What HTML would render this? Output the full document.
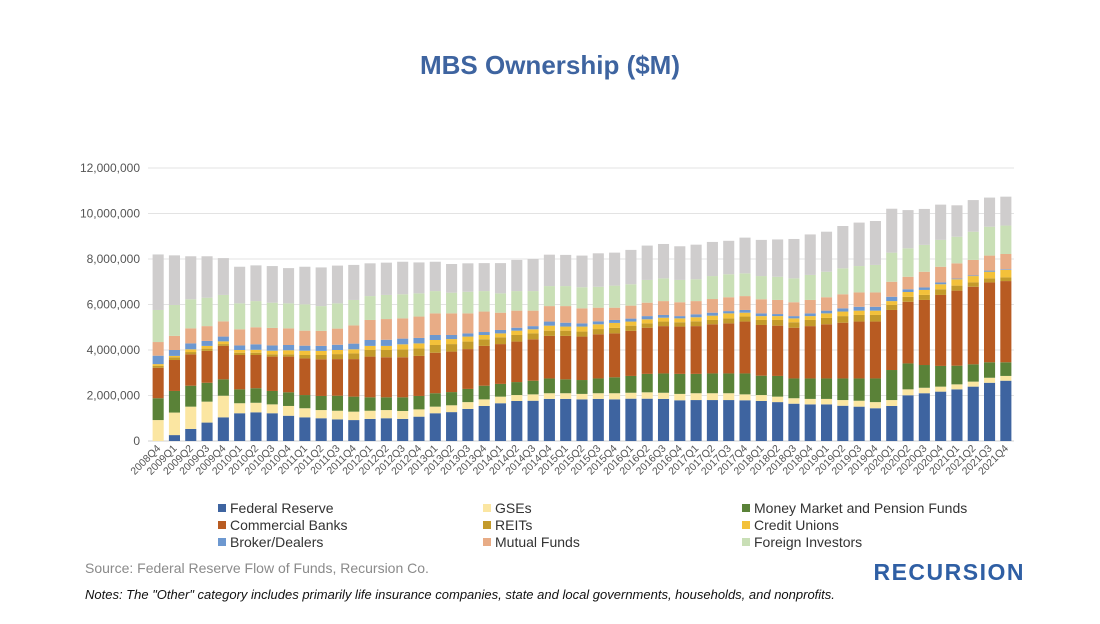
<!DOCTYPE html>
<html><head><meta charset="utf-8"><style>
body{margin:0;background:#fff;width:1100px;height:619px;overflow:hidden;font-family:"Liberation Sans",sans-serif;}
</style></head><body>
<svg id="chart" width="1100" height="619" xmlns="http://www.w3.org/2000/svg" font-family="Liberation Sans, sans-serif">
<text x="550" y="74" text-anchor="middle" font-size="26" font-weight="bold" fill="#3e64a0">MBS Ownership ($M)</text>
<g id="grid"></g><g id="bars"></g><g id="xlabels"></g><g id="ylabels"></g>
<g id="legend"></g>
<text x="85" y="573" font-size="14" fill="#8a8a8a">Source: Federal Reserve Flow of Funds, Recursion Co.</text>
<text x="1025" y="580" text-anchor="end" font-size="23" font-weight="bold" fill="#2f5fa4" letter-spacing="1.5">RECURSION</text>
<text x="85" y="599" font-size="13" font-style="italic" fill="#111">Notes: The "Other" category includes primarily life insurance companies, state and local governments, households, and nonprofits.</text>
</svg>
<script>
const yTicks=[0,2000000,4000000,6000000,8000000,10000000,12000000];
const seriesNames=["Federal Reserve","GSEs","Money Market and Pension Funds","Commercial Banks","REITs","Credit Unions","Broker/Dealers","Mutual Funds","Foreign Investors","Other"];
const fed=[0,.26,.53,.81,1.04,1.22,1.26,1.22,1.11,1.04,1.00,.95,.92,.97,1.00,.97,1.07,1.22,1.27,1.41,1.54,1.66,1.76,1.77,1.85,1.85,1.83,1.85,1.83,1.86,1.86,1.85,1.79,1.80,1.80,1.80,1.79,1.76,1.71,1.64,1.61,1.61,1.55,1.51,1.44,1.54,2.01,2.10,2.17,2.27,2.39,2.56,2.65];
const gse=[.92,.99,.98,.92,.95,.44,.42,.39,.43,.40,.36,.38,.37,.36,.36,.35,.32,.29,.30,.30,.29,.29,.26,.28,.25,.25,.24,.25,.27,.26,.28,.27,.28,.30,.30,.30,.26,.26,.24,.24,.24,.24,.25,.26,.27,.26,.26,.24,.22,.22,.22,.22,.21];
const mmpf=[.96,.95,.92,.83,.72,.61,.64,.59,.60,.58,.62,.66,.66,.59,.56,.60,.59,.59,.58,.58,.60,.56,.57,.60,.65,.61,.61,.65,.70,.74,.81,.85,.88,.85,.87,.87,.92,.85,.91,.87,.90,.90,.95,.98,1.04,1.32,1.14,1.00,.91,.82,.76,.68,.60];
const banks=[1.34,1.36,1.38,1.40,1.47,1.51,1.46,1.51,1.57,1.61,1.61,1.61,1.65,1.79,1.76,1.76,1.76,1.78,1.78,1.75,1.75,1.75,1.78,1.82,1.87,1.91,1.91,1.94,1.93,1.98,2.03,2.08,2.08,2.10,2.16,2.20,2.28,2.23,2.21,2.23,2.30,2.38,2.45,2.50,2.50,2.64,2.71,2.86,3.12,3.30,3.41,3.51,3.57];
const reits=[.08,.12,.10,.10,.08,.10,.10,.10,.10,.15,.19,.22,.25,.29,.32,.35,.33,.34,.33,.33,.29,.30,.29,.26,.23,.23,.22,.23,.24,.23,.19,.20,.19,.21,.19,.22,.22,.22,.25,.24,.27,.28,.29,.29,.29,.22,.22,.22,.25,.22,.19,.18,.16];
const unions=[.08,.06,.12,.12,.12,.12,.13,.16,.18,.19,.18,.18,.18,.18,.18,.22,.22,.22,.22,.22,.19,.17,.19,.18,.22,.18,.22,.21,.22,.18,.18,.17,.17,.18,.19,.22,.17,.17,.17,.17,.17,.20,.20,.19,.19,.17,.21,.22,.22,.28,.28,.29,.33];
const brokers=[.37,.26,.26,.22,.21,.20,.24,.23,.23,.22,.22,.23,.25,.26,.27,.25,.24,.22,.18,.14,.13,.15,.13,.14,.18,.17,.14,.13,.13,.13,.14,.12,.10,.13,.13,.10,.12,.12,.09,.10,.12,.12,.14,.17,.17,.19,.12,.11,.08,.03,.03,.05,.03];
const mutual=[.60,.62,.66,.65,.67,.71,.75,.77,.73,.66,.66,.71,.80,.88,.91,.89,.94,.95,.95,.88,.90,.76,.75,.68,.68,.73,.66,.60,.54,.57,.59,.61,.61,.58,.60,.61,.61,.62,.62,.61,.59,.59,.62,.63,.63,.66,.55,.69,.69,.67,.68,.66,.67];
const foreign=[1.41,1.36,1.28,1.25,1.16,1.14,1.15,1.11,1.10,1.16,1.09,1.11,1.12,1.05,1.06,1.06,1.02,.98,.91,.95,.90,.85,.86,.86,.88,.88,.93,.92,.97,.94,1.00,1.00,.98,.96,1.01,1.01,1.00,1.02,1.02,1.05,1.10,1.12,1.14,1.16,1.21,1.28,1.25,1.18,1.18,1.17,1.24,1.27,1.25];
const other=[2.44,2.18,1.89,1.82,1.62,1.61,1.57,1.61,1.55,1.65,1.70,1.66,1.54,1.44,1.42,1.43,1.36,1.29,1.26,1.25,1.23,1.33,1.37,1.41,1.38,1.37,1.39,1.47,1.45,1.51,1.51,1.51,1.48,1.52,1.50,1.47,1.57,1.59,1.64,1.73,1.78,1.76,1.86,1.91,1.93,1.93,1.68,1.58,1.55,1.38,1.39,1.28,1.27];
const categories=[];
for(let y=2008,q=4;y<2022;){categories.push(y+"Q"+q);q++;if(q>4){q=1;y++;}}
const series=[fed,gse,mmpf,banks,reits,unions,brokers,mutual,foreign,other];
const colors=["#3e64a0","#fbe6a2","#5a8238","#b85b22","#c39a2b","#f3c13a","#6d98d0","#e8ac86","#c9dfb6","#cfcdcd"];
const NS="http://www.w3.org/2000/svg";
const L=150,R=1014,Y0=441,Y1=168,MAXV=12000000;
const band=(R-L)/categories.length;
const xc=i=>L+band*(i+0.5);
const yv=v=>Y0-(v/MAXV)*(Y0-Y1);
function mk(tag,a,parent){const e=document.createElementNS(NS,tag);for(const k in a)e.setAttribute(k,a[k]);parent.appendChild(e);return e;}
const g=document.getElementById('grid'),yl=document.getElementById('ylabels');
yTicks.forEach(t=>{
  const ln=mk('line',{x1:L-2,x2:R,y1:yv(t),y2:yv(t),stroke:t===0?'#d0d0d0':'#e3e3e3','stroke-width':1},g);
  
  
  const tx=mk('text',{x:140,y:yv(t)+4,'text-anchor':'end','font-size':12,fill:'#555'},yl);
  tx.textContent=t.toLocaleString('en-US');
  
  
});
const bg=document.getElementById('bars'),xl=document.getElementById('xlabels');
const bw=band*0.68;
categories.forEach((c,i)=>{
  let cum=0;
  series.forEach((s,k)=>{
    const v=s[i]*1e6;
    const r=mk('rect',{x:xc(i)-bw/2,y:yv(cum+v),width:bw,height:Math.max(0,yv(cum)-yv(cum+v)),fill:colors[k]},bg);
    
    
    cum+=v;
  });
  const x=xc(i)+3,y=449;
  const t=mk('text',{x:x,y:y,'text-anchor':'end','font-size':10.5,fill:'#555',transform:`rotate(-45 ${x} ${y})`},xl);
  t.textContent=c;
  
  
});
const lg=document.getElementById('legend');
const cols=[218,483,742],rows=[508,525,542];
seriesNames.slice(0,9).forEach((n,k)=>{
  const cx=cols[k%3],cy=rows[Math.floor(k/3)];
  const grp=mk('g',{},lg);
  
  
  mk('rect',{x:cx,y:cy-4,width:8,height:8,fill:colors[k]},grp);
  const t=mk('text',{x:cx+12,y:cy+5,'font-size':14,fill:'#333'},grp);
  t.textContent=n;
});
</script>
</body></html>
